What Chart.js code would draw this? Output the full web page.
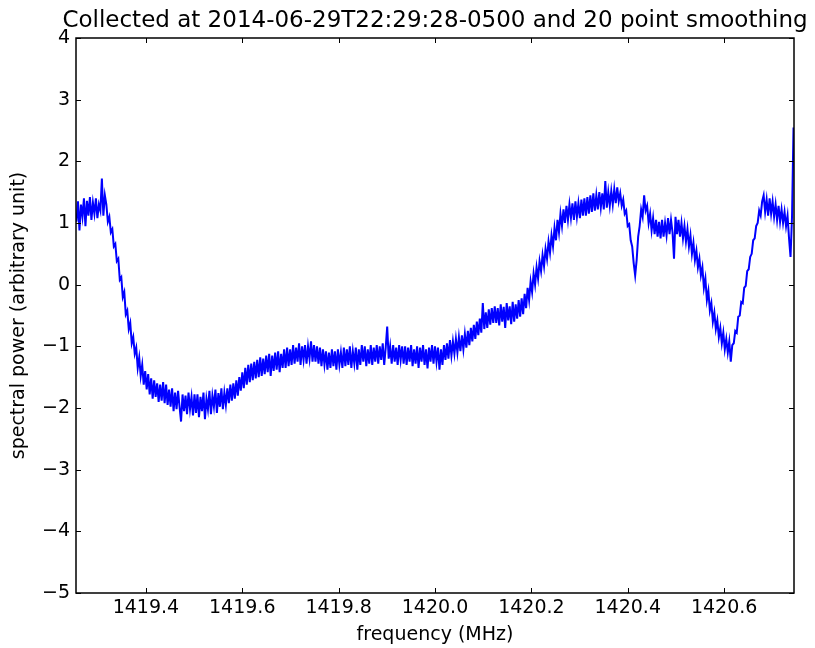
<!DOCTYPE html>
<html>
<head>
<meta charset="utf-8">
<script src="https://cdn.jsdelivr.net/npm/chart.js@4.4.1/dist/chart.umd.min.js"></script>
<style>
  html, body { margin: 0; padding: 0; background: #fff; }
  canvas { display: block; }
</style>
</head>
<body>
<canvas id="spectrum" width="815" height="648"></canvas>
<script>
// spectrum bins (MHz)
const freqStart = 1419.256;
const freqStep = 0.0031;

// spectral power, one value per bin
const power = [
  1.02, 1.35, 0.88, 1.3, 1.1, 1.4, 0.95, 1.36, 1.12, 1.42, 1.05, 1.33, 1.15, 1.4, 1.08, 1.3, 1.2, 1.72, 1.12, 1.45,
  1.3, 1.02, 1.1, 0.85, 0.9, 0.62, 0.66, 0.38, 0.42, 0.08, 0.12, -0.2, -0.12, -0.48, -0.42, -0.72, -0.62, -0.95, -0.85, -1.12,
  -1.02, -1.35, -1.18, -1.48, -1.3, -1.62, -1.4, -1.7, -1.45, -1.78, -1.52, -1.85, -1.55, -1.82, -1.6, -1.9, -1.62, -1.88, -1.58, -1.92,
  -1.62, -1.95, -1.7, -1.98, -1.68, -2.05, -1.75, -2.02, -1.72, -1.98, -2.22, -1.78, -2.05, -1.8, -2.1, -1.75, -2.02, -1.82, -2.12, -1.78,
  -2.08, -1.78, -2.15, -1.82, -2.05, -1.75, -2.18, -1.85, -2.02, -1.72, -2.1, -1.8, -1.98, -1.7, -2.08, -1.76, -1.98, -1.68, -2.02, -1.75,
  -1.95, -1.68, -1.92, -1.62, -1.88, -1.6, -1.85, -1.55, -1.8, -1.5, -1.72, -1.42, -1.68, -1.35, -1.62, -1.3, -1.58, -1.28, -1.55, -1.25,
  -1.52, -1.22, -1.5, -1.18, -1.48, -1.2, -1.45, -1.15, -1.42, -1.12, -1.48, -1.15, -1.4, -1.1, -1.38, -1.08, -1.42, -1.12, -1.35, -1.05,
  -1.35, -1.02, -1.32, -1.05, -1.3, -0.98, -1.28, -1.02, -1.25, -0.95, -1.3, -1.0, -1.22, -0.98, -1.28, -1.0, -1.2, -0.92, -1.25, -0.98,
  -1.25, -1.0, -1.28, -1.02, -1.32, -1.05, -1.3, -1.08, -1.38, -1.1, -1.35, -1.05, -1.32, -1.08, -1.38, -1.05, -1.3, -1.1, -1.35, -1.02,
  -1.32, -1.05, -1.3, -1.0, -1.35, -1.08, -1.28, -1.02, -1.38, -1.05, -1.3, -0.98, -1.25, -1.0, -1.32, -1.05, -1.28, -0.98, -1.3, -1.02,
  -1.25, -0.98, -1.28, -1.0, -1.22, -0.95, -1.3, -1.02, -0.68, -1.2, -1.0, -1.28, -0.98, -1.25, -1.02, -1.3, -0.98, -1.22, -1.0, -1.28,
  -1.0, -1.3, -1.02, -1.25, -0.98, -1.32, -1.05, -1.28, -1.0, -1.35, -1.02, -1.25, -0.98, -1.3, -1.05, -1.36, -1.02, -1.25, -0.98, -1.28,
  -1.0, -1.25, -1.02, -1.38, -1.05, -1.3, -0.98, -1.22, -0.95, -1.2, -0.9, -1.15, -0.92, -1.12, -0.88, -1.1, -0.85, -1.08, -0.82, -1.05,
  -0.8, -1.02, -0.75, -0.98, -0.7, -0.92, -0.65, -0.88, -0.6, -0.82, -0.55, -0.78, -0.3, -0.72, -0.45, -0.7, -0.4, -0.65, -0.38, -0.62,
  -0.35, -0.62, -0.38, -0.66, -0.32, -0.6, -0.36, -0.7, -0.3, -0.58, -0.35, -0.64, -0.28, -0.6, -0.32, -0.55, -0.25, -0.52, -0.22, -0.48,
  -0.15, -0.38, -0.05, -0.25, 0.05, -0.12, 0.18, 0.0, 0.28, 0.1, 0.38, 0.22, 0.48, 0.3, 0.58, 0.42, 0.7, 0.52, 0.8, 0.62,
  0.92, 0.72, 1.05, 0.85, 1.15, 0.95, 1.22, 1.0, 1.28, 1.05, 1.3, 1.08, 1.32, 1.05, 1.35, 1.1, 1.32, 1.08, 1.38, 1.12,
  1.4, 1.12, 1.42, 1.15, 1.45, 1.18, 1.48, 1.2, 1.45, 1.22, 1.5, 1.25, 1.48, 1.22, 1.68, 1.25, 1.5, 1.28, 1.52, 1.3,
  1.55, 1.32, 1.58, 1.35, 1.48, 1.28, 1.38, 1.15, 1.2, 0.95, 0.98, 0.72, 0.62, 0.35, 0.15, 0.4, 0.78, 0.95, 1.22, 1.1,
  1.45, 1.2, 1.28, 1.0, 1.15, 0.88, 1.08, 0.82, 1.05, 0.78, 1.02, 0.75, 1.05, 0.78, 1.0, 0.8, 1.08, 0.82, 1.05, 0.85,
  0.42, 1.1, 0.82, 1.05, 0.78, 1.0, 0.75, 0.95, 0.7, 0.9, 0.62, 0.8, 0.5, 0.68, 0.4, 0.55, 0.28, 0.42, 0.15, 0.28,
  -0.05, 0.1, -0.25, -0.1, -0.42, -0.3, -0.6, -0.45, -0.72, -0.58, -0.85, -0.7, -0.95, -0.78, -1.05, -0.88, -1.1, -0.92, -1.25, -0.98,
  -0.95, -0.75, -0.78, -0.52, -0.5, -0.28, -0.3, -0.05, -0.02, 0.22, 0.25, 0.45, 0.5, 0.72, 0.75, 0.95, 1.0, 1.2, 1.12, 1.35,
  1.45, 1.18, 1.38, 1.12, 1.4, 1.15, 1.35, 1.1, 1.3, 1.05, 1.28, 1.02, 1.22, 1.0, 1.18, 0.95, 1.12, 0.75, 0.45, 1.1,
  2.55
];

// tick labels
const xTicks = [1419.4, 1419.6, 1419.8, 1420.0, 1420.2, 1420.4, 1420.6];
const yTicks = [-5, -4, -3, -2, -1, 0, 1, 2, 3, 4];

const titleText = 'Collected at 2014-06-29T22:29:28-0500 and 20 point smoothing';

const points = power.map((v, i) => ({ x: freqStart + i * freqStep, y: v }));

const fontFamily = '"DejaVu Sans", sans-serif';

// matplotlib style frame: box round the plot, ticks pointing inward on all four sides, title over the axes
const framePlugin = {
  id: 'frame',
  afterDraw(chart) {
    const { ctx, chartArea: a, scales } = chart;
    ctx.save();
    ctx.strokeStyle = '#000';
    ctx.lineWidth = 1.5;
    ctx.strokeRect(a.left, a.top, a.right - a.left, a.bottom - a.top);
    ctx.lineWidth = 1;
    ctx.beginPath();
    scales.x.ticks.forEach(t => {
      const px = Math.round(scales.x.getPixelForValue(t.value)) + 0.5;
      ctx.moveTo(px, a.bottom); ctx.lineTo(px, a.bottom - 5);
      ctx.moveTo(px, a.top); ctx.lineTo(px, a.top + 5);
    });
    scales.y.ticks.forEach(t => {
      const py = Math.round(scales.y.getPixelForValue(t.value)) + 0.5;
      ctx.moveTo(a.left, py); ctx.lineTo(a.left + 5, py);
      ctx.moveTo(a.right, py); ctx.lineTo(a.right - 5, py);
    });
    ctx.stroke();

    ctx.fillStyle = '#000';
    ctx.font = '23px ' + fontFamily;
    ctx.textAlign = 'center';
    ctx.textBaseline = 'alphabetic';
    ctx.fillText(titleText, (a.left + a.right) / 2, a.top - 11);
    ctx.restore();
  }
};

new Chart(document.getElementById('spectrum'), {
  type: 'line',
  data: {
    datasets: [{
      data: points,
      borderColor: '#0000ff',
      borderWidth: 2,
      pointRadius: 0,
      tension: 0,
      fill: false
    }]
  },
  options: {
    responsive: false,
    animation: false,
    layout: { padding: { top: 38, right: 21, left: 0, bottom: 0 } },
    plugins: {
      legend: { display: false },
      tooltip: { enabled: false },
      title: { display: false }
    },
    scales: {
      x: {
        type: 'linear',
        min: 1419.255,
        max: 1420.745,
        afterBuildTicks: axis => { axis.ticks = xTicks.map(v => ({ value: v })); },
        afterFit: axis => { axis.height = 55; },
        grid: { display: false, drawTicks: false },
        border: { display: false },
        ticks: {
          padding: 4,
          color: '#000',
          font: { family: fontFamily, size: 19 },
          maxRotation: 0,
          callback: v => v.toFixed(1)
        },
        title: {
          display: true,
          text: 'frequency (MHz)',
          color: '#000',
          font: { family: fontFamily, size: 19 },
          padding: { top: 0, bottom: 2 }
        }
      },
      y: {
        min: -5,
        max: 4,
        afterBuildTicks: axis => { axis.ticks = yTicks.map(v => ({ value: v })); },
        afterFit: axis => { axis.width = 76; },
        grid: { display: false, drawTicks: false },
        border: { display: false },
        ticks: {
          padding: 6,
          color: '#000',
          font: { family: fontFamily, size: 19 },
          callback: v => (v < 0 ? '\u2212' + Math.abs(v) : String(v))
        },
        title: {
          display: true,
          text: 'spectral power (arbitrary unit)',
          color: '#000',
          font: { family: fontFamily, size: 19 },
          padding: { top: 8, bottom: 0 }
        }
      }
    }
  },
  plugins: [framePlugin]
});
</script>
</body>
</html>
